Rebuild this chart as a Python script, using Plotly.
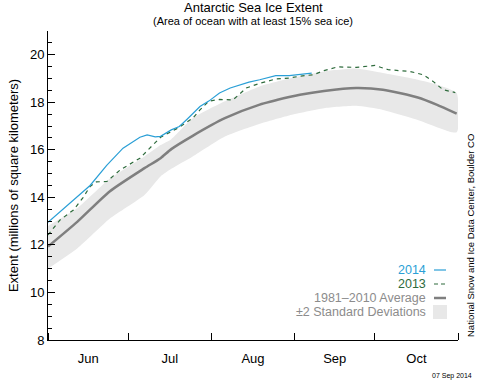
import pandas as pd
import plotly.graph_objects as go

BASE = pd.Timestamp("2014-06-01")

# ---- data (day offsets from 1 Jun, extent in millions of km^2) ----
avg_days = [0, 11, 23, 36, 42, 46, 54, 66, 79, 90, 94, 103, 115, 125, 138, 145, 152.5]
avg_vals = [11.93, 12.98, 14.25, 15.23, 15.65, 16.03, 16.59, 17.33, 17.9, 18.22, 18.32, 18.48, 18.6, 18.53, 18.2, 17.9, 17.52]

upper_days = [0, 11, 23, 36, 42, 46, 54, 66, 79, 90, 103, 115, 125, 138, 145, 152.5]
upper_vals = [12.8, 13.55, 14.78, 15.72, 16.2, 16.45, 17.33, 18.04, 18.67, 19.0, 19.3, 19.42, 19.23, 18.95, 18.75, 18.39]

lower_days = [0, 11, 23, 36, 42, 46, 54, 66, 79, 90, 103, 115, 125, 138, 152.5]
lower_vals = [11.0, 11.86, 13.1, 14.1, 14.88, 15.2, 15.72, 16.56, 17.1, 17.45, 17.75, 17.85, 17.68, 17.26, 16.74]

y2014_days = [0, 4.5, 8, 12, 15.7, 21.9, 28, 34.3, 37, 40, 42, 46, 49, 52, 56.7, 60, 64, 68, 71.6, 75, 79, 85, 90, 94, 98.4]
y2014_vals = [12.95, 13.4, 13.77, 14.15, 14.5, 15.35, 16.07, 16.53, 16.63, 16.55, 16.57, 16.84, 16.98, 17.3, 17.82, 18.05, 18.39, 18.6, 18.74, 18.85, 18.95, 19.12, 19.12, 19.16, 19.23]

y2013_days = [0, 4.5, 9.5, 13, 15.7, 18, 22, 27, 34.3, 42, 49, 54, 56.7, 60, 64, 69, 74, 79, 85, 90, 94, 99, 103, 108, 115, 122, 127, 135, 140, 143.7, 147.4, 152]
y2013_vals = [12.42, 13.05, 13.47, 13.98, 14.46, 14.65, 14.67, 15.16, 15.65, 16.53, 16.95, 17.33, 17.68, 18.05, 18.12, 18.1, 18.6, 18.8, 18.98, 19.02, 19.1, 19.16, 19.33, 19.49, 19.47, 19.55, 19.37, 19.3, 19.16, 18.88, 18.53, 18.41]

y_tick_vals = [8, 10, 12, 14, 16, 18, 20]
legend_labels = ["2014", "2013", "1981\u20132010 Average", "\u00b12 Standard Deviations"]


def to_dates(days):
    return [BASE + pd.Timedelta(days=d) for d in days]


FONT = "Liberation Sans, Arial, Helvetica, sans-serif"
C2014 = "#2a9fd6"
C2013 = "#2e6b3c"
CAVG = "#7f7f7f"
CBAND = "#e8e8e8"
CLEG = "#8c8c8c"

fig = go.Figure()

band_x = to_dates(upper_days) + to_dates(lower_days)[::-1]
band_y = upper_vals + lower_vals[::-1]
fig.add_trace(go.Scatter(x=band_x, y=band_y, fill="toself", fillcolor=CBAND,
                         line=dict(width=0, shape="spline", smoothing=0.5), mode="lines", hoverinfo="skip"))
fig.add_trace(go.Scatter(x=to_dates(avg_days), y=avg_vals, mode="lines",
                         line=dict(color=CAVG, width=2.5, shape="spline", smoothing=0.6)))
fig.add_trace(go.Scatter(x=to_dates(y2013_days), y=y2013_vals, mode="lines",
                         line=dict(color=C2013, width=1.2, dash="4px,4px")))
fig.add_trace(go.Scatter(x=to_dates(y2014_days), y=y2014_vals, mode="lines",
                         line=dict(color=C2014, width=1.2)))

fig.update_layout(
    width=480, height=381,
    margin=dict(l=48, r=22, t=31, b=41, autoexpand=False),
    paper_bgcolor="white", plot_bgcolor="white",
    showlegend=False,
    font=dict(family=FONT, size=13, color="black"),
)

fig.update_xaxes(
    type="date",
    range=[BASE, pd.Timestamp("2014-11-01")],
    dtick="M1", tick0="2014-06-01",
    ticklabelmode="period", tickformat="%b",
    ticks="inside", ticklen=7, tickcolor="black", tickwidth=1,
    showline=True, linecolor="black", linewidth=1,
    showgrid=False, zeroline=False,
    tickfont=dict(size=13, family=FONT),
    ticklabelstandoff=6,
    automargin=False,
)
fig.update_yaxes(
    range=[8, 21],
    tickvals=y_tick_vals,
    ticks="inside", ticklen=7, tickcolor="black", tickwidth=1,
    minor=dict(dtick=0.5, tick0=8, ticks="inside", ticklen=4, tickcolor="black", showgrid=False),
    showline=True, linecolor="black", linewidth=1,
    showgrid=False, zeroline=False,
    tickfont=dict(size=13, family=FONT),
    title=dict(text="Extent (millions of square kilometers)", font=dict(size=13, family=FONT), standoff=8),
    automargin=False,
)


def py(ypix):
    return (340 - ypix) / 309


def px(xpix):
    return (xpix - 48) / 410


# titles
fig.add_annotation(text="Antarctic Sea Ice Extent", xref="paper", yref="paper",
                   x=px(253), y=py(7), showarrow=False,
                   font=dict(size=13, family=FONT), xanchor="center", yanchor="middle")
fig.add_annotation(text="(Area of ocean with at least 15% sea ice)", xref="paper", yref="paper",
                   x=px(253), y=py(21), showarrow=False,
                   font=dict(size=11, family=FONT), xanchor="center", yanchor="middle")

# legend (custom)
rows = [270, 284, 298, 312]
colors = [C2014, C2013, CLEG, CLEG]
for lab, col, yy in zip(legend_labels, colors, rows):
    fig.add_annotation(text=lab, xref="paper", yref="paper", x=px(428), y=py(yy),
                       xanchor="right", yanchor="middle", showarrow=False,
                       font=dict(size=12.5, family=FONT, color=col))
fig.add_shape(type="line", xref="paper", yref="paper", x0=px(434), x1=px(446), y0=py(270), y1=py(270),
              line=dict(color=C2014, width=1.2))
fig.add_shape(type="line", xref="paper", yref="paper", x0=px(434), x1=px(446), y0=py(284), y1=py(284),
              line=dict(color=C2013, width=1.2, dash="4px,3px"))
fig.add_shape(type="line", xref="paper", yref="paper", x0=px(434), x1=px(446), y0=py(298), y1=py(298),
              line=dict(color=CAVG, width=2.5))
fig.add_shape(type="rect", xref="paper", yref="paper", x0=px(433), x1=px(447), y0=py(319), y1=py(305),
              line=dict(width=0), fillcolor=CBAND)

# side credits
fig.add_annotation(text="National Snow and Ice Data Center, Boulder CO", xref="paper", yref="paper",
                   x=px(470), y=py(236), textangle=-90, showarrow=False,
                   font=dict(size=9.5, family=FONT), xanchor="center", yanchor="middle")
fig.add_annotation(text="07 Sep 2014", xref="paper", yref="paper",
                   x=px(474), y=py(376), showarrow=False,
                   font=dict(size=7, family=FONT), xanchor="right", yanchor="middle")

fig.write_html("out.html", config={"displayModeBar": False},
               post_script="document.body.style.margin='0';")
